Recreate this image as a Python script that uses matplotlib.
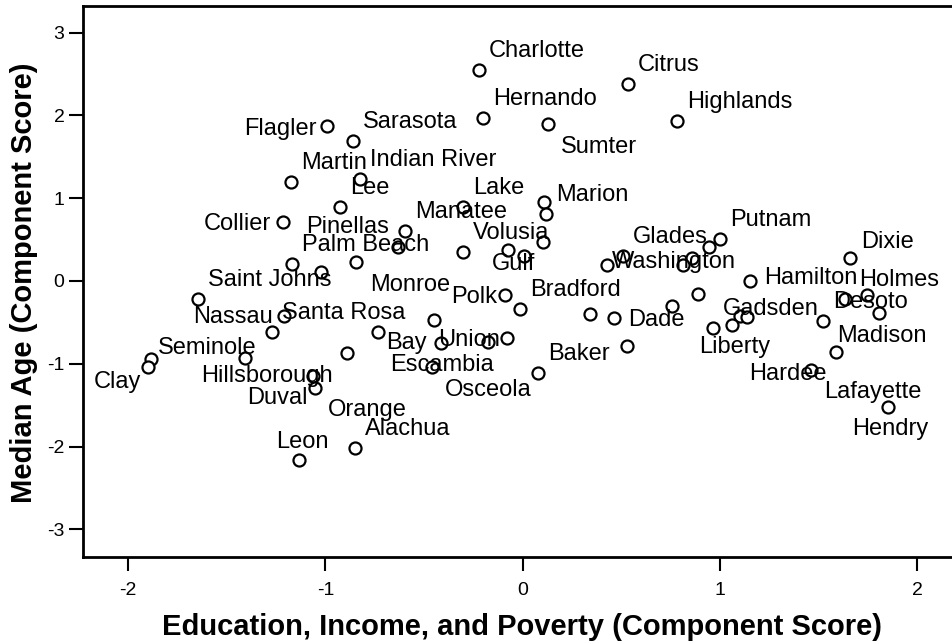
import matplotlib
matplotlib.use("Agg")
import matplotlib.pyplot as plt

# county component scores ("" = point drawn without a label)
counties = ["Charlotte", "Citrus", "Hernando", "Sumter", "Highlands", "Flagler", "Sarasota",
            "Martin", "Indian River", "Lake", "", "Marion", "Manatee", "", "Lee", "Collier",
            "Palm Beach", "Pinellas", "Monroe", "Saint Johns", "Nassau", "Santa Rosa", "", "",
            "Clay", "Seminole", "Hillsborough", "Orange", "Duval", "Alachua", "Leon", "",
            "Volusia", "", "Gulf", "Washington", "Glades", "Polk", "Bradford", "", "Dade", "",
            "", "Bay", "Union", "Osceola", "", "Escambia", "Baker", "Putnam", "", "", "",
            "Dixie", "Hamilton", "", "", "Holmes", "Lafayette", "", "", "Liberty", "Gadsden",
            "Desoto", "Madison", "Hardee", "Hendry"]

edu_income = [-0.221, 0.532, -0.200, 0.127, 0.784, -0.993, -0.859, -1.176, -0.825, -0.301,
              0.108, 0.117, -0.597, 0.104, -0.926, -1.215, -1.171, -1.022, -0.845, -1.644,
              -1.210, -1.269, -0.733, -0.892, -1.884, -1.898, -1.407, -1.064, -1.053, -0.850,
              -1.134, -0.630, -0.301, -0.073, 0.005, 0.426, 0.507, -0.088, -0.014, 0.341,
              0.464, 0.755, -0.448, -0.414, -0.174, -0.081, 0.527, -0.461, 0.079, 1.000,
              0.943, 0.857, 0.814, 1.659, 1.152, 0.890, 1.743, 1.634, 1.807, 1.099,
              1.138, 1.060, 0.966, 1.524, 1.586, 1.462, 1.853]

median_age = [2.549, 2.376, 1.973, 1.893, 1.937, 1.873, 1.695, 1.190, 1.226, 0.898,
              0.958, 0.806, 0.604, 0.471, 0.890, 0.709, 0.202, 0.112, 0.233, -0.217,
              -0.419, -0.613, -0.613, -0.874, -0.946, -1.035, -0.927, -1.144, -1.296, -2.021,
              -2.163, 0.414, 0.350, 0.378, 0.302, 0.193, 0.296, -0.169, -0.338, -0.401,
              -0.451, -0.302, -0.471, -0.753, -0.741, -0.685, -0.782, -1.043, -1.115, 0.507,
              0.414, 0.280, 0.197, 0.274, 0.000, -0.159, -0.175, -0.221, -0.390, -0.428,
              -0.434, -0.535, -0.565, -0.481, -0.858, -1.070, -1.526]

# label placement (pixels, left edge / baseline relative to the point)
default_offset = (10, 13)
label_offsets = {
    "Sumter": (13, -29), "Flagler": (-83, -9), "Collier": (-79, -8), "Pinellas": (-15, 39),
    "Monroe": (14, -29), "Nassau": (-91, -7), "Clay": (-57, -29), "Hillsborough": (-44, -24),
    "Orange": (15, -40), "Duval": (-68, -16), "Leon": (-23, 12), "Gulf": (-32, -14),
    "Washington": (5, -3), "Polk": (-54, -8), "Dade": (14, -8), "Bay": (-55, -6),
    "Union": (-50, -4), "Osceola": (-62, -58), "Escambia": (-42, -4), "Dixie": (11, 10),
    "Hamilton": (14, -3), "Holmes": (14, 13), "Lafayette": (-55, -85), "Liberty": (-33, -28),
    "Madison": (2, 10), "Hardee": (-62, -10), "Hendry": (-36, -28),
}

plt.rcParams['font.family'] = ['Liberation Sans', 'DejaVu Sans']
plt.rcParams['axes.unicode_minus'] = False

fig = plt.figure(figsize=(9.53, 6.44), dpi=100)
ax = fig.add_axes([0.0874, 0.1356, 0.9126, 0.8551])

ax.scatter(edu_income, median_age, s=75, facecolors='white', edgecolors='black',
           linewidths=1.6, zorder=3, clip_on=False)

for name, x, y in zip(counties, edu_income, median_age):
    if not name:
        continue
    dx, dy = label_offsets.get(name, default_offset)
    ax.annotate(name, (x, y), xytext=(dx, dy), textcoords='offset pixels',
                ha='left', va='baseline', fontsize=17, zorder=4)

ax.set_xlim(-2.227, 2.181)
ax.set_ylim(-3.331, 3.322)
ax.set_xticks([-2, -1, 0, 1, 2])
ax.set_yticks([-3, -2, -1, 0, 1, 2, 3])
ax.tick_params(axis='both', direction='out', length=10, width=1.5, labelsize=14)
ax.tick_params(axis='x', pad=8)
ax.tick_params(axis='y', pad=3.5)

for side in ['left', 'bottom', 'top']:
    ax.spines[side].set_linewidth(2)
ax.spines['right'].set_visible(False)

fig.text(521.7 / 953, 1 - 635 / 644, "Education, Income, and Poverty (Component Score)",
         ha='center', va='baseline', fontsize=21, fontweight='bold')
fig.text(32.5 / 953, 1 - 283 / 644, "Median Age (Component Score)", rotation=90,
         rotation_mode='anchor', ha='center', va='baseline', fontsize=21, fontweight='bold')

fig.savefig("out.png", dpi=100)
